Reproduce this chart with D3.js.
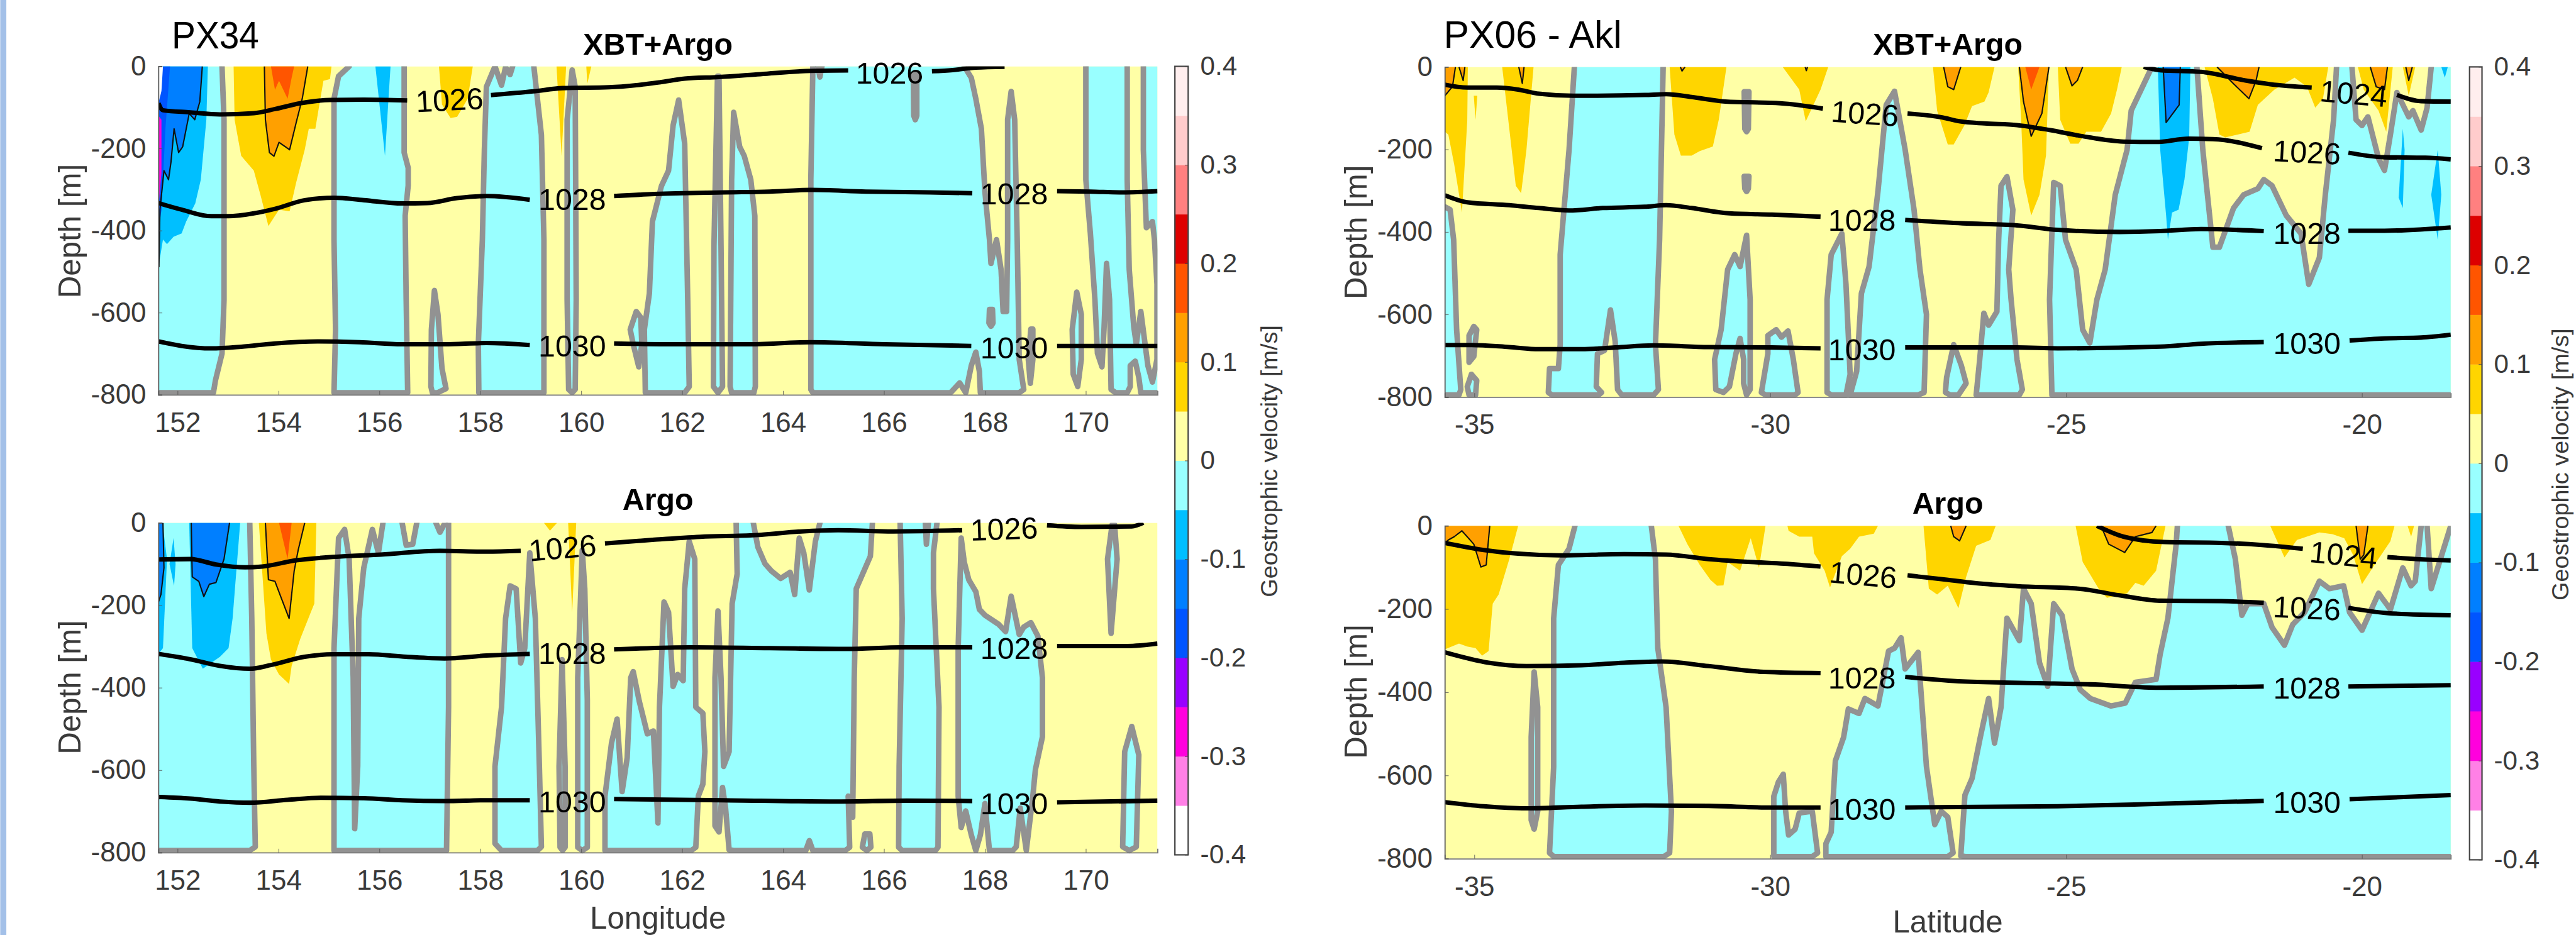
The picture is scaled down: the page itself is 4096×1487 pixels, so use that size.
<!DOCTYPE html>
<html><head><meta charset="utf-8">
<script src="https://d3js.org/d3.v7.min.js"></script>
<style>html,body{margin:0;padding:0;background:#fff;overflow:hidden}svg{display:block}text{font-family:"Liberation Sans",Arial,sans-serif}</style>
</head><body>
<script>
// ---- DATA (x = longitude/latitude, d = depth in m) ----
const levels=[-0.4,-0.35,-0.3,-0.25,-0.2,-0.15,-0.1,-0.05,0,0.05,0.1,0.15,0.2,0.25,0.3,0.35,0.4];
const levelColors=["#ffffff","#ff80e6","#ff00dd","#9900ff","#0055ff","#007fff","#00bfff","#99ffff","#ffffa6","#ffd500","#ffa000","#ff5500","#dd0000","#ff8080","#ffcccc","#ffeeee"];
const cbTicks=[-0.4,-0.3,-0.2,-0.1,0,0.1,0.2,0.3,0.4];
const lonTicks=[152,154,156,158,160,162,164,166,168,170];
const latTicks=[-35,-30,-25,-20];
const depthTicks=[0,-200,-400,-600,-800];

// Panel A: PX34 XBT+Argo
const cyanA=[
[[151.62,0],[152.88,0],[152.92,130],[152.92,570],[152.88,700],[152.75,765],[152.71,795],[151.62,795]],
[[155.40,0],[155.19,24],[155.10,79],[155.10,422],[155.13,641],[155.10,795],[156.56,795],[156.53,568],[156.51,364],[156.57,290],[156.57,247],[156.49,210],[156.49,0]],
[[157.02,780],[157.03,641],[157.09,546],[157.16,604],[157.24,736],[157.32,785],[157.15,795],[157.05,795]],
[[158.29,0],[158.12,50],[158.08,203],[158.04,422],[157.96,677],[157.97,795],[159.26,795],[159.26,422],[159.21,167],[159.06,0]],
[[159.82,9],[159.72,130],[159.72,568],[159.75,787],[159.82,795],[159.88,787],[159.9,568],[159.88,50]],
[[160.97,641],[161.09,597],[161.18,612],[161.2,677],[161.14,732],[161.03,677]],
[[161.27,795],[161.25,641],[161.35,553],[161.41,378],[161.59,291],[161.73,254],[161.82,144],[161.93,82],[162.05,188],[162.11,568],[162.14,780],[162.05,795]],
[[162.7,24],[162.63,438],[162.62,780],[162.71,795],[162.8,780],[162.77,438],[162.73,24]],
[[163.02,112],[162.98,276],[162.95,780],[162.98,795],[163.42,795],[163.45,780],[163.44,364],[163.36,276],[163.23,218],[163.14,196]],
[[167.59,0],[167.73,28],[167.82,79],[167.93,152],[168,305],[168.09,422],[168.12,480],[168.23,422],[168.32,495],[168.36,597],[168.43,597],[168.45,422],[168.45,130],[168.52,61],[168.59,130],[168.64,422],[168.68,714],[168.77,787],[168.68,795],[167.91,795],[167.89,743],[167.82,696],[167.73,729],[167.62,795],[167.5,771],[167.32,795],[164.59,795],[164.55,787],[164.55,276],[164.59,0]],
[[170,0],[170,276],[170.09,407],[170.18,568],[170.23,699],[170.32,732],[170.36,641],[170.41,480],[170.47,568],[170.5,787],[170.59,795],[170.82,795],[170.88,780],[170.88,729],[170.98,718],[171.05,758],[171.09,795],[171.42,795],[171.42,0],[171.14,0],[171.14,203],[171.2,393],[171.32,378],[171.36,422],[171.41,531],[171.41,714],[171.32,769],[171.23,729],[171.09,597],[171,677],[170.95,634],[170.86,495],[170.82,276],[170.82,0]],
[[169.82,550],[169.73,641],[169.75,750],[169.84,780],[169.91,714],[169.91,604]],
[[168.91,640],[168.86,714],[168.9,772],[168.95,714],[168.95,640]]
];
const islandsA=[
[[158.29,0],[158.42,46],[158.5,2],[158.59,20],[158.64,0]],
[[166.58,20],[166.59,120],[166.62,130],[166.65,120],[166.65,20]],
[[168.09,592],[168.08,625],[168.12,633],[168.16,625],[168.15,592]],
[[164.69,0],[164.73,26],[164.77,0]]
];
const bandsA=[
{c:"#00bfff",p:[[151.62,0],[152.6,0],[152.57,130],[152.46,276],[152.35,334],[152.17,378],[152.08,407],[151.92,415],[151.79,433],[151.71,422],[151.62,490]]},
{c:"#00bfff",p:[[155.92,0],[156.11,218],[156.22,0]]},
{c:"#007fff",k:1,p:[[151.62,0],[152.49,0],[152.44,86],[152.34,130],[152.23,115],[152.1,196],[152.02,210],[151.93,152],[151.87,232],[151.82,276],[151.73,254],[151.65,349],[151.63,488],[151.62,488]]},
{c:"#0055ff",p:[[151.62,0],[151.85,0],[151.76,150],[151.68,350],[151.62,400]]},
{c:"#ff00dd",p:[[151.62,120],[151.68,130],[151.68,260],[151.63,330],[151.62,330]]},
{c:"#ffffff",p:[[151.62,0],[151.71,0],[151.68,60],[151.62,90]]},
{c:"#ffd500",p:[[153.11,0],[153.13,130],[153.26,218],[153.51,254],[153.64,312],[153.8,389],[153.93,364],[154.01,349],[154.22,353],[154.35,283],[154.52,203],[154.6,152],[154.73,152],[154.81,93],[154.89,35],[155.02,31],[155.05,0]]},
{c:"#ffa000",k:1,p:[[153.72,0],[153.74,130],[153.82,210],[153.91,219],[154.01,185],[154.22,203],[154.35,137],[154.47,79],[154.58,0]]},
{c:"#ff5500",p:[[153.85,0],[153.93,57],[154.01,35],[154.18,79],[154.26,28],[154.31,0]]},
{c:"#ffd500",p:[[157.18,0],[157.24,93],[157.41,126],[157.54,123],[157.75,79],[157.85,0]]},
{c:"#ffd500",p:[[159.51,0],[159.61,218],[159.7,0]]},
{c:"#ffd500",p:[[160.1,0],[160.12,42],[160.2,0]]}
];
const densA=[
{v:1026,s:[[[151.62,90],[151.71,107],[152.25,112],[152.84,117],[153.51,114],[153.93,104],[154.43,90],[155.02,82],[155.69,81],[156.55,83]],
[[158.21,70],[159.05,61],[159.63,53],[160.55,51],[161.09,46],[161.55,39],[162.05,30],[162.73,26],[163.55,19],[164.55,11],[165.29,10]],
[[166.95,12],[167.36,9],[167.82,3],[168.39,1]]],l:[[157.39,81,-3],[166.11,15,0]]},
{v:1028,s:[[[151.62,333],[152.08,349],[152.67,365],[153.01,365],[153.51,358],[153.93,347],[154.52,326],[155.1,320],[155.69,326],[156.45,334],[156.95,333],[157.54,321],[158.12,316],[158.98,325]],
[[160.65,316],[161.45,311],[162.82,307],[163.73,305],[164.55,301],[165.64,305],[166.91,307],[167.75,309]],
[[169.43,304],[170.09,305],[170.73,307],[171.42,304]]],l:[[159.82,323,0],[168.58,310,0]]},
{v:1030,s:[[[151.62,670],[152.08,681],[152.67,687],[153.26,683],[153.93,675],[154.77,670],[155.61,672],[156.45,677],[157.29,677],[158.12,674],[158.98,679]],
[[160.65,675],[161.91,677],[163.27,677],[164.55,672],[166,677],[167.73,681]],
[[169.43,681],[171.42,681]]],l:[[159.82,680,0],[168.58,685,0]]}
];

// Panel B: PX34 Argo
const cyanB=[
[[151.62,0],[153.43,0],[153.47,232],[153.51,591],[153.54,786],[153.43,795],[151.62,795]],
[[155.1,795],[155.1,304],[155.19,37],[155.31,16],[155.4,88],[155.48,376],[155.51,742],[155.57,590],[155.59,232],[155.69,109],[155.86,16],[155.98,73],[156.07,0],[156.45,0],[156.53,54],[156.66,52],[156.74,0],[157.12,0],[157.2,23],[157.3,0],[157.37,0],[157.37,447],[157.33,795]],
[[158.42,795],[158.29,778],[158.29,591],[158.42,447],[158.5,232],[158.59,153],[158.71,160],[158.8,340],[158.88,304],[158.98,73],[159.09,232],[159.17,591],[159.21,786],[159.13,795]],
[[159.62,332],[159.56,591],[159.58,787],[159.63,795],[159.68,787],[159.68,591]],
[[160.02,66],[159.93,376],[159.93,787],[160.02,795],[160.12,787],[160.12,430],[160.07,160]],
[[160.47,795],[160.47,663],[160.6,534],[160.71,476],[160.81,652],[160.91,570],[160.98,376],[161.03,361],[161.15,433],[161.31,512],[161.43,505],[161.52,728],[161.55,447],[161.64,192],[161.73,217],[161.82,397],[161.91,368],[162.02,383],[162.05,160],[162.14,45],[162.25,88],[162.27,447],[162.41,462],[162.45,555],[162.41,634],[162.32,663],[162.27,787],[162.18,795]],
[[162.71,214],[162.65,376],[162.65,735],[162.73,750],[162.8,642],[162.86,692],[162.93,793],[163.02,795],[164.45,795],[164.52,771],[164.59,795],[165.23,795],[165.32,787],[165.29,663],[165.38,714],[165.41,376],[165.45,160],[165.73,81],[165.77,0],[164.73,0],[164.64,45],[164.52,163],[164.41,73],[164.32,37],[164.23,174],[164.14,120],[163.95,135],[163.77,117],[163.64,99],[163.5,59],[163.41,0],[163.07,0],[163.09,124],[162.99,196],[162.93,555],[162.82,591],[162.77,376]],
[[166.32,0],[166.36,232],[166.3,591],[166.29,787],[166.36,795],[167.02,795],[167.07,787],[167.09,447],[166.98,160],[166.98,73],[167.05,0],[166.88,0],[166.84,52],[166.82,0]],
[[167.53,37],[167.47,304],[167.47,663],[167.53,739],[167.62,699],[167.73,757],[167.82,795],[167.91,757],[168,681],[168.09,795],[168.55,795],[168.62,786],[168.7,692],[168.82,795],[168.95,663],[169,599],[169.14,519],[169.14,376],[169.05,275],[168.91,242],[168.77,253],[168.68,271],[168.52,178],[168.41,264],[168.27,246],[168,224],[167.89,210],[167.82,167],[167.68,138],[167.59,95]],
[[170.52,5],[170.43,88],[170.5,268],[170.62,88],[170.57,5]],
[[170.91,494],[170.77,555],[170.73,786],[170.86,795],[171,786],[171.05,563]],
[[165.62,755],[165.57,787],[165.66,795],[165.74,787],[165.72,755]]
];
const islandsB=[];
const bandsB=[
{c:"#00bfff",p:[[151.62,0],[151.7,0],[151.79,88],[151.75,196],[151.71,304],[151.62,318]]},
{c:"#00bfff",p:[[151.84,100],[151.92,37],[151.96,100],[151.93,153]]},
{c:"#00bfff",p:[[152.23,0],[152.29,304],[152.5,354],[152.84,325],[153.01,304],[153.09,232],[153.24,0]]},
{c:"#007fff",k:1,p:[[151.62,0],[151.71,0],[151.73,109],[151.67,174],[151.62,192]]},
{c:"#007fff",k:1,p:[[152.27,0],[152.29,131],[152.42,142],[152.52,179],[152.63,149],[152.76,145],[152.92,88],[153.03,0]]},
{c:"#ffd500",p:[[153.61,0],[153.68,124],[153.76,268],[153.85,332],[154.01,368],[154.21,391],[154.26,347],[154.43,282],[154.64,217],[154.71,196],[154.75,0]]},
{c:"#ffa000",k:1,p:[[153.74,0],[153.8,138],[153.93,142],[154.05,181],[154.21,232],[154.31,117],[154.39,66],[154.52,0]]},
{c:"#ff5500",p:[[154.01,0],[154.18,88],[154.26,0]]},
{c:"#ffd500",p:[[159.26,0],[159.38,19],[159.52,0]]},
{c:"#ffd500",p:[[159.74,0],[159.82,217],[159.9,0]]}
];
const densB=[
{v:1026,s:[[[151.62,89],[152.25,88],[152.76,101],[153.34,108],[153.68,106],[154.35,91],[155.19,82],[156.03,77],[157.2,68],[158.12,70],[158.8,68]],
[[160.47,50],[161.45,41],[162.36,34],[163.45,30],[164.36,21],[165.09,18],[166.18,21],[167.55,18]],
[[169.23,6],[169.91,10],[170.91,9],[171.14,0]]],l:[[159.63,60,-5],[168.38,14,-2]]},
{v:1028,s:[[[151.62,318],[152.25,331],[152.84,347],[153.43,354],[153.85,345],[154.52,325],[155.1,319],[155.78,319],[156.53,325],[157.29,329],[158.12,322],[158.98,318]],
[[160.65,307],[162.18,302],[163.73,304],[165.27,306],[166.36,302],[167.75,302]],
[[169.43,299],[170.82,299],[171.42,293]]],l:[[159.82,316,0],[168.58,304,0]]},
{v:1030,s:[[[151.62,665],[152.25,669],[152.84,676],[153.43,679],[154.18,672],[154.85,667],[155.69,668],[156.45,673],[157.29,675],[158.12,673],[158.98,673]],
[[160.65,670],[162.82,673],[165.09,676],[166.45,674],[167.75,675]],
[[169.43,678],[171.42,674]]],l:[[159.82,676,0],[168.58,681,0]]}
];

// Panel C: PX06 - Akl XBT+Argo
const cyanC=[
[[-35.5,339],[-35.41,346],[-35.35,419],[-35.3,637],[-35.23,782],[-35.26,795],[-35.5,795]],
[[-35.01,629],[-35.09,651],[-35.09,716],[-35.01,702],[-34.96,637]],
[[-35.05,745],[-35.12,775],[-35.09,795],[-34.98,795],[-34.96,760]],
[[-33.31,0],[-33.4,201],[-33.55,455],[-33.55,673],[-33.58,731],[-33.73,731],[-33.75,789],[-33.69,795],[-32.9,795],[-32.85,789],[-32.94,775],[-32.92,695],[-32.8,687],[-32.7,589],[-32.62,666],[-32.58,782],[-32.51,795],[-31.97,795],[-31.89,782],[-31.94,673],[-31.87,419],[-31.81,0]],
[[-30.92,782],[-30.94,709],[-30.83,637],[-30.72,491],[-30.6,455],[-30.51,484],[-30.4,408],[-30.34,564],[-30.34,782],[-30.4,795],[-30.45,767],[-30.45,709],[-30.51,658],[-30.58,695],[-30.69,775],[-30.79,789]],
[[-30.15,789],[-30.04,695],[-30.04,651],[-29.9,637],[-29.81,655],[-29.7,640],[-29.61,709],[-29.53,789],[-29.58,795],[-30.08,795]],
[[-29.04,789],[-29.04,564],[-28.97,455],[-28.79,404],[-28.72,527],[-28.65,745],[-28.72,795],[-28.97,795]],
[[-28.65,795],[-28.54,738],[-28.46,549],[-28.33,484],[-28.18,302],[-28.04,92],[-27.9,59],[-27.72,201],[-27.57,346],[-27.47,491],[-27.36,600],[-27.4,789],[-27.5,795],[-28.5,795]],
[[-26.9,673],[-27.02,753],[-27.04,789],[-26.96,795],[-26.82,795],[-26.69,767],[-26.77,724]],
[[-26.39,597],[-26.46,709],[-26.52,795],[-25.79,795],[-25.74,782],[-25.83,709],[-25.93,564],[-25.97,491],[-25.9,346],[-26,266],[-26.1,288],[-26.14,419],[-26.17,593],[-26.31,626]],
[[-25.24,795],[-25.28,564],[-25.21,280],[-25.1,288],[-25.01,419],[-24.83,491],[-24.72,637],[-24.6,669],[-24.48,564],[-24.34,491],[-24.17,310],[-23.97,201],[-23.9,106],[-23.55,0],[-22.79,0],[-22.69,201],[-22.52,437],[-22.41,437],[-22.17,342],[-22,310],[-21.76,295],[-21.66,273],[-21.52,288],[-21.28,360],[-21.03,404],[-20.9,527],[-20.72,462],[-20.62,310],[-20.48,128],[-20.43,0],[-20.17,0],[-20.1,128],[-20,142],[-19.9,121],[-19.72,222],[-19.62,251],[-19.52,164],[-19.41,62],[-19.21,121],[-19.14,106],[-19,153],[-18.9,99],[-18.83,0],[-18.5,0],[-18.5,795]]
];
const islandsC=[
[[-30.44,60],[-30.43,150],[-30.4,157],[-30.37,150],[-30.36,60]],
[[-30.44,265],[-30.43,295],[-30.4,302],[-30.37,295],[-30.36,265]]
];
const bandsC=[
{c:"#ffd500",p:[[-35.5,0],[-35.11,0],[-35.12,130],[-35.21,353],[-35.34,237],[-35.44,164],[-35.5,157]]},
{c:"#ffd500",p:[[-35.01,70],[-34.98,128],[-34.95,70]]},
{c:"#ffd500",p:[[-34.53,0],[-34.41,150],[-34.3,288],[-34.21,306],[-34.12,201],[-34,0]]},
{c:"#ffd500",p:[[-31.7,0],[-31.62,164],[-31.51,215],[-31.33,215],[-31.19,204],[-30.97,193],[-30.87,128],[-30.74,0]]},
{c:"#ffd500",p:[[-29.79,0],[-29.51,55],[-29.4,132],[-29.15,55],[-29.02,0]]},
{c:"#ffd500",p:[[-27.25,0],[-27.18,106],[-27,188],[-26.9,188],[-26.72,142],[-26.59,95],[-26.38,84],[-26.31,62],[-26.21,0]]},
{c:"#ffd500",p:[[-25.81,0],[-25.76,128],[-25.72,273],[-25.59,360],[-25.45,310],[-25.34,215],[-25.29,0]]},
{c:"#ffd500",p:[[-25.14,0],[-25.1,128],[-24.93,186],[-24.79,186],[-24.66,157],[-24.41,157],[-24.24,113],[-24.14,55],[-24.06,0]]},
{c:"#ffd500",p:[[-22.66,0],[-22.52,77],[-22.41,164],[-22.31,171],[-21.9,157],[-21.76,92],[-21.48,55],[-21.14,26],[-20.93,48],[-20.79,99],[-20.66,77],[-20.57,0]]},
{c:"#ffd500",p:[[-20.07,0],[-19.97,55],[-19.72,106],[-19.59,157],[-19.48,0]]},
{c:"#ffd500",p:[[-19.31,0],[-19.21,70],[-19.1,0]]},
{c:"#00bfff",p:[[-23.45,0],[-23.41,201],[-23.31,360],[-23.28,419],[-23.21,353],[-23.1,346],[-23,273],[-22.92,171],[-22.9,0]]},
{c:"#00bfff",p:[[-19.31,150],[-19.38,317],[-19.31,342],[-19.28,201]]},
{c:"#00bfff",p:[[-18.72,201],[-18.83,310],[-18.72,419],[-18.66,310]]},
{c:"#00bfff",p:[[-18.66,0],[-18.6,26],[-18.55,0]]},
{c:"#007fff",k:1,p:[[-23.36,0],[-23.31,135],[-23.09,92],[-23.07,0]]},
{c:"#ffa000",k:1,p:[[-35.5,0],[-35.32,0],[-35.37,48],[-35.5,70]]},
{c:"#ffa000",k:1,p:[[-35.26,0],[-35.19,33],[-35.16,0]]},
{c:"#ffa000",k:1,p:[[-34.25,0],[-34.19,40],[-34.16,0]]},
{c:"#ffa000",k:1,p:[[-31.52,0],[-31.49,10],[-31.44,0]]},
{c:"#ffa000",k:1,p:[[-29.41,0],[-29.39,9],[-29.37,0]]},
{c:"#ffa000",k:1,p:[[-27.07,0],[-27,48],[-26.9,55],[-26.78,0]]},
{c:"#ffa000",k:1,p:[[-25.79,0],[-25.72,84],[-25.59,168],[-25.41,113],[-25.29,0]]},
{c:"#ff5500",p:[[-25.69,0],[-25.59,55],[-25.45,0]]},
{c:"#ffa000",k:1,p:[[-25.01,0],[-24.9,46],[-24.81,33],[-24.72,0]]},
{c:"#ffa000",k:1,p:[[-22.45,0],[-22.17,41],[-21.91,77],[-21.79,33],[-21.74,0]]},
{c:"#ffa000",k:1,p:[[-19.86,0],[-19.76,48],[-19.62,55],[-19.57,0]]},
{c:"#ffa000",k:1,p:[[-19.26,0],[-19.21,33],[-19.15,0]]}
];
const densC=[
{v:1024,s:[[[-23.69,0],[-23.41,8],[-22.72,12],[-21.97,33],[-21.55,42],[-20.85,50]],
[[-19.41,68],[-19,83],[-18.5,84]]],l:[[-20.14,64,5]]},
{v:1026,s:[[[-35.5,43],[-35.12,50],[-34.62,50],[-34.26,55],[-33.91,65],[-33.33,70],[-32.12,68],[-31.76,66],[-31.33,73],[-30.76,84],[-29.83,88],[-29.11,101]],
[[-27.68,113],[-27.11,122],[-26.79,132],[-26.38,137],[-25.83,141],[-25.28,153],[-24.72,168],[-24.03,181],[-23.48,182],[-22.93,174],[-22.52,175],[-21.69,197]],
[[-20.23,208],[-19.62,219],[-18.93,220],[-18.5,224]]],l:[[-28.4,112,4],[-20.93,206,3]]},
{v:1028,s:[[[-35.5,311],[-35.12,328],[-34.41,335],[-33.91,342],[-33.4,348],[-32.83,342],[-32.12,339],[-31.76,335],[-31.33,342],[-30.69,355],[-29.97,358],[-29.15,363]],
[[-27.72,371],[-26.75,379],[-25.83,384],[-25.14,395],[-24.1,400],[-23.41,398],[-22.72,393],[-21.66,398]],
[[-20.23,397],[-19.62,397],[-18.5,389]]],l:[[-28.45,371,0],[-20.93,402,0]]},
{v:1030,s:[[[-35.5,674],[-35.05,674],[-34.41,679],[-33.91,684],[-33.19,684],[-32.62,680],[-31.97,675],[-31.04,679],[-29.97,680],[-29.15,682]],
[[-27.72,680],[-25.83,680],[-25.14,682],[-23.41,678],[-22.72,671],[-21.66,667]],
[[-20.21,663],[-19.62,658],[-19,656],[-18.5,649]]],l:[[-28.45,684,0],[-20.93,669,0]]}
];

// Panel D: PX06 - Akl Argo
const cyanD=[
[[-33.99,351],[-34.04,508],[-34.04,707],[-33.99,729],[-33.93,686],[-33.93,436]],
[[-33.3,0],[-33.4,55],[-33.58,94],[-33.66,222],[-33.66,579],[-33.73,786],[-33.66,795],[-31.8,795],[-31.7,786],[-31.67,686],[-31.76,436],[-31.9,294],[-31.94,80],[-32.01,0]],
[[-29.94,795],[-29.94,650],[-29.86,615],[-29.78,597],[-29.74,686],[-29.69,743],[-29.58,729],[-29.51,690],[-29.29,686],[-29.2,786],[-29.29,795]],
[[-29.06,795],[-29.06,764],[-28.97,736],[-28.9,565],[-28.76,508],[-28.68,440],[-28.5,451],[-28.4,415],[-28.18,433],[-28,301],[-27.9,294],[-27.79,269],[-27.72,344],[-27.5,304],[-27.47,365],[-27.36,579],[-27.22,718],[-27.11,686],[-27,700],[-26.91,786],[-27,795]],
[[-26.78,793],[-26.71,647],[-26.59,607],[-26.45,508],[-26.31,415],[-26.21,522],[-26.1,436],[-26,222],[-25.79,276],[-25.72,151],[-25.59,187],[-25.45,329],[-25.31,386],[-25.21,187],[-25.07,215],[-24.9,344],[-24.76,394],[-24.59,415],[-24.24,433],[-24,426],[-23.83,376],[-23.48,369],[-23.41,308],[-23.28,222],[-23.14,44],[-23.12,0],[-22.26,0],[-22.14,80],[-22.03,215],[-21.93,187],[-21.66,187],[-21.52,244],[-21.31,287],[-21.17,237],[-20.97,208],[-20.72,133],[-20.55,151],[-20.31,144],[-20.21,208],[-20,251],[-19.72,162],[-19.52,201],[-19.31,101],[-19.17,144],[-19.1,133],[-19,0],[-18.9,0],[-18.83,151],[-18.5,0],[-18.5,795],[-26.7,795]]
];
const islandsD=[];
const bandsD=[
{c:"#ffd500",p:[[-35.5,0],[-34.26,0],[-34.41,80],[-34.59,165],[-34.69,187],[-34.76,301],[-34.87,312],[-34.98,294],[-35.12,290],[-35.26,283],[-35.5,297]]},
{c:"#ffd500",p:[[-31.55,0],[-31.4,44],[-31.19,94],[-31.01,130],[-30.9,144],[-30.79,143],[-30.72,87],[-30.51,108],[-30.33,30],[-30.19,101],[-30.08,0]]},
{c:"#ffd500",p:[[-29.71,0],[-29.69,12],[-29.51,26],[-29.29,26],[-29.26,66],[-29.08,108],[-28.99,148],[-28.79,73],[-28.65,55],[-28.5,26],[-28.25,19],[-28.18,0]]},
{c:"#ffd500",p:[[-27.41,0],[-27.32,151],[-27.18,165],[-27,144],[-26.82,198],[-26.69,123],[-26.52,48],[-26.28,34],[-26.19,0]]},
{c:"#ffd500",p:[[-24.84,0],[-24.72,87],[-24.45,151],[-24.31,173],[-23.97,162],[-23.83,137],[-23.69,144],[-23.48,108],[-23.32,0]]},
{c:"#ffd500",p:[[-21.55,0],[-21.31,76],[-21.1,34],[-20.72,16],[-20.5,20],[-20.3,30],[-20.15,70],[-20,140],[-19.79,94],[-19.52,37],[-19.45,0]]},
{c:"#ffd500",p:[[-19.23,0],[-19.17,26],[-19.12,0]]},
{c:"#ffa000",k:1,p:[[-35.5,0],[-34.74,0],[-34.8,94],[-34.89,99],[-35.01,44],[-35.21,12],[-35.34,26],[-35.44,34],[-35.5,41]]},
{c:"#ffa000",k:1,p:[[-26.95,0],[-26.9,26],[-26.8,36],[-26.69,0]]},
{c:"#ffa000",k:1,p:[[-24.41,0],[-24.28,44],[-24.01,64],[-23.83,26],[-23.55,16],[-23.48,0]]},
{c:"#ffa000",k:1,p:[[-20.1,0],[-20.03,80],[-19.97,70],[-19.9,0]]}
];
const densD=[
{v:1024,s:[[[-24.48,0],[-24.03,26],[-23.34,39],[-22.38,41],[-21.69,46],[-21,55]],
[[-19.57,75],[-19.07,80],[-18.5,83]]],l:[[-20.31,69,6]]},
{v:1026,s:[[[-35.5,41],[-34.84,58],[-34.26,67],[-33.55,71],[-32.47,68],[-31.76,69],[-31.04,80],[-30.33,87],[-29.76,91],[-29.15,98]],
[[-27.68,119],[-27.11,128],[-26.52,138],[-25.83,145],[-24.79,151],[-24.1,167],[-23.41,180],[-22.38,181],[-21.66,185]],
[[-20.23,197],[-19.55,210],[-18.5,215]]],l:[[-28.43,117,5],[-20.93,197,3]]},
{v:1028,s:[[[-35.5,304],[-34.76,329],[-34.12,337],[-33.19,335],[-32.47,329],[-31.83,326],[-31.04,337],[-30.11,351],[-29.15,354]],
[[-27.72,363],[-26.75,374],[-25.48,378],[-24.59,381],[-23.48,389],[-21.66,386]],
[[-20.23,386],[-18.5,383]]],l:[[-28.45,365,0],[-20.93,389,0]]},
{v:1030,s:[[[-35.5,664],[-34.84,674],[-34.12,679],[-33.19,675],[-32.12,672],[-31.04,673],[-29.97,677],[-29.15,677]],
[[-27.72,677],[-25.14,674],[-23.41,668],[-21.66,661]],
[[-20.21,657],[-18.5,647]]],l:[[-28.45,680,0],[-20.93,664,0]]}
];

// ---- LAYOUT (reference pixels; viewBox scales everything by 0.879) ----
const W=4657,H=1691,YEL="#ffffa6",CYA="#99ffff",GRAY="#929292";
const TICK=50,LABEL=56;
const panels=[
{id:"a",l:286,r:2092.5,t:120,b:714,dom:[151.62,171.42],ticks:lonTicks,title:"XBT+Argo",tb:99,cyan:cyanA,isl:islandsA,bands:bandsA,dens:densA,dy:418,dx:125},
{id:"b",l:286,r:2092.5,t:945.5,b:1542,dom:[151.62,171.42],ticks:lonTicks,title:"Argo",tb:922,cyan:cyanB,isl:islandsB,bands:bandsB,dens:densB,dy:1243,dx:125,xl:"Longitude",xb:1680},
{id:"c",l:2612,r:4431,t:121,b:718,dom:[-35.5,-18.5],ticks:latTicks,title:"XBT+Argo",tb:99,cyan:cyanC,isl:islandsC,bands:bandsC,dens:densC,dy:420,dx:2450},
{id:"d",l:2612,r:4431,t:951,b:1553,dom:[-35.5,-18.5],ticks:latTicks,title:"Argo",tb:929,cyan:cyanD,isl:islandsD,bands:bandsD,dens:densD,dy:1251,dx:2450,xl:"Latitude",xb:1686}
];
const svg=d3.select("body").append("svg").attr("width",4096).attr("height",1487).attr("viewBox",`0 0 ${W} ${H}`);
svg.append("rect").attr("width",W).attr("height",H).attr("fill","#fff");
svg.append("rect").attr("width",11).attr("height",H).attr("fill","#a3c0e8");
const defs=svg.append("defs");

function splitEdges(pts,xmin,xmax){ // contour polylines: closed ring minus edges lying on the top/left/right frame
  const onFrame=(a,b)=>(a[1]===0&&b[1]===0)||(a[0]<=xmin&&b[0]<=xmin)||(a[0]>=xmax&&b[0]>=xmax);
  const n=pts.length,ring=[];let start=0;
  for(let i=0;i<n;i++){if(onFrame(pts[i],pts[(i+1)%n])){start=(i+1)%n;break;}}
  let cur=[pts[start]];
  for(let j=0;j<n;j++){
    const a=pts[(start+j)%n],b=pts[(start+j+1)%n];
    if(onFrame(a,b)){if(cur.length>1)ring.push(cur);cur=[b];}else cur.push(b);
  }
  if(cur.length>1)ring.push(cur);
  return ring;
}

panels.forEach(p=>{
  const x=d3.scaleLinear().domain(p.dom).range([p.l,p.r]);
  const y=d3.scaleLinear().domain([-800,0]).range([p.b,p.t]);
  const line=d3.line().x(d=>x(d[0])).y(d=>y(-d[1]));
  const [xa,xb]=p.dom;
  defs.append("clipPath").attr("id","clip"+p.id).append("rect").attr("x",p.l).attr("y",p.t).attr("width",p.r-p.l).attr("height",p.b-p.t+3);
  const g=svg.append("g").attr("clip-path",`url(#clip${p.id})`);
  g.append("rect").attr("x",p.l).attr("y",p.t).attr("width",p.r-p.l).attr("height",p.b-p.t).attr("fill",YEL);
  g.selectAll("path.cy").data(p.cyan).join("path").attr("class","cy").attr("d",d=>line(d)+"Z").attr("fill",CYA);
  g.selectAll("path.is").data(p.isl).join("path").attr("class","is").attr("d",d=>line(d)+"Z").attr("fill",YEL);
  g.selectAll("path.bd").data(p.bands).join("path").attr("class","bd").attr("d",d=>line(d.p)+"Z").attr("fill",d=>d.c);
  p.bands.filter(b=>b.k).forEach(b=>splitEdges(b.p,xa,xb).forEach(s=>
    g.append("path").attr("d",line(s)).attr("fill","none").attr("stroke","#111").attr("stroke-width",2.4).attr("stroke-linejoin","round")));
  p.cyan.concat(p.isl).forEach(c=>splitEdges(c,xa,xb).forEach(s=>
    g.append("path").attr("d",line(s)).attr("fill","none").attr("stroke",GRAY).attr("stroke-width",10).attr("stroke-linejoin","round").attr("stroke-linecap","round")));
  p.dens.forEach(dn=>dn.s.forEach(s=>
    g.append("path").attr("d",d3.line().curve(d3.curveMonotoneX).x(d=>x(d[0])).y(d=>y(-d[1]))(s)).attr("fill","none").attr("stroke","#000").attr("stroke-width",8)));
  p.dens.forEach(dn=>dn.l.forEach(l=>
    svg.append("text").attr("transform",`translate(${x(l[0])},${y(-l[1])}) rotate(${l[2]})`).attr("text-anchor","middle").attr("dy","0.36em")
      .attr("font-size",55).attr("fill","#000").text(dn.v)));
  // axes
  const ax=svg.append("g").attr("transform",`translate(0,${p.b})`).call(d3.axisBottom(x).tickValues(p.ticks).tickFormat(String).tickSize(-7).tickPadding(0));
  ax.selectAll("text").attr("y",67).attr("dy",0).attr("font-size",TICK).attr("font-family",'"Liberation Sans"').attr("fill","#3a3a3a");
  ax.selectAll("line").attr("stroke","#555");ax.select(".domain").attr("stroke","#777").attr("stroke-width",2);
  const ay=svg.append("g").attr("transform",`translate(${p.l},0)`).call(d3.axisLeft(y).tickValues(depthTicks).tickFormat(String).tickSize(-7).tickPadding(0));
  ay.selectAll("text").attr("x",-22).attr("font-size",TICK).attr("font-family",'"Liberation Sans"').attr("fill","#3a3a3a");
  ay.selectAll("line").attr("stroke","#555");ay.select(".domain").attr("stroke","#555").attr("stroke-width",2);
  // labels
  svg.append("text").attr("x",(p.l+p.r)/2).attr("y",p.tb).attr("text-anchor","middle").attr("font-weight","bold").attr("font-size",55).attr("fill","#000").text(p.title);
  svg.append("text").attr("transform",`translate(${p.dx},${p.dy}) rotate(-90)`).attr("text-anchor","middle").attr("dy","0.36em").attr("font-size",LABEL).attr("fill","#3a3a3a").text("Depth [m]");
  if(p.xl)svg.append("text").attr("x",(p.l+p.r)/2).attr("y",p.xb).attr("text-anchor","middle").attr("font-size",LABEL).attr("fill","#3a3a3a").text(p.xl);
});

// colour bars
[{l:2124,r:2148,t:120,b:1546,tx:2170,lx:2294,ly:834},{l:4465,r:4487.5,t:121,b:1555,tx:4509,lx:4628,ly:840}].forEach(c=>{
  const y=d3.scaleLinear().domain([-0.4,0.4]).range([c.b,c.t]);
  svg.append("g").selectAll("rect").data(levelColors).join("rect")
    .attr("x",c.l).attr("width",c.r-c.l).attr("y",(d,i)=>y(levels[i+1])).attr("height",(d,i)=>y(levels[i])-y(levels[i+1])+0.5).attr("fill",d=>d);
  svg.append("rect").attr("x",c.l).attr("y",c.t).attr("width",c.r-c.l).attr("height",c.b-c.t).attr("fill","none").attr("stroke","#444").attr("stroke-width",2.5);
  const a=svg.append("g").attr("transform",`translate(${c.r},0)`).call(d3.axisRight(y).tickValues(cbTicks).tickFormat(String).tickSize(-6).tickPadding(0));
  a.select(".domain").remove();a.selectAll("line").attr("stroke","#444");
  a.selectAll("text").attr("x",c.tx-c.r).attr("font-size",TICK-2).attr("font-family",'"Liberation Sans"').attr("fill","#3a3a3a");
  svg.append("text").attr("transform",`translate(${c.lx},${c.ly}) rotate(-90)`).attr("text-anchor","middle").attr("dy","0.36em").attr("font-size",43).attr("fill","#3a3a3a").text("Geostrophic velocity [m/s]");
});

// slide titles
svg.append("text").attr("x",310).attr("y",88).attr("font-family","Lato").attr("font-size",70).attr("fill","#000").attr("textLength",158).attr("lengthAdjust","spacingAndGlyphs").text("PX34");
svg.append("text").attr("x",2610).attr("y",86).attr("font-family","Lato").attr("font-size",70).attr("fill","#000").attr("textLength",322).attr("lengthAdjust","spacingAndGlyphs").text("PX06 - Akl");
</script>
</body></html>
